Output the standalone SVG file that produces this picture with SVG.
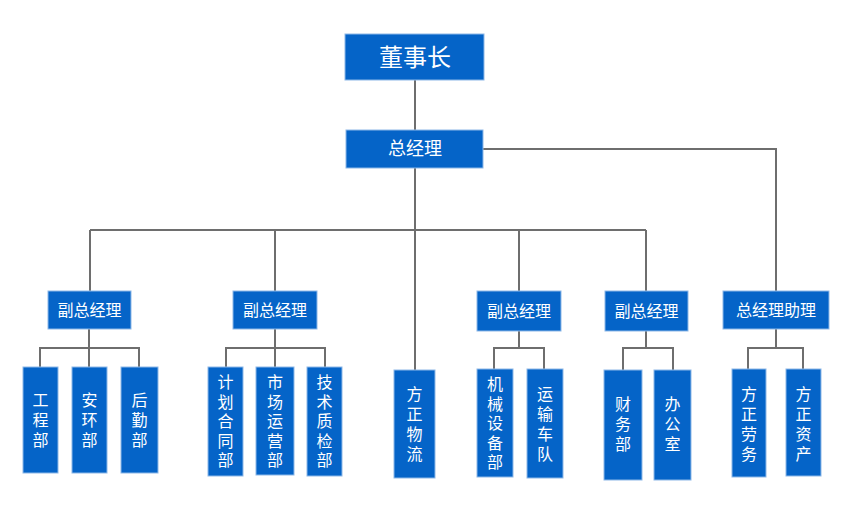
<svg xmlns="http://www.w3.org/2000/svg" width="850" height="530" viewBox="0 0 850 530">
<style>
.box{fill:#0564C8;stroke:#8DB8E8;stroke-width:1}
.t{fill:#fff;font-family:"Noto Sans CJK SC","Microsoft YaHei",sans-serif;text-anchor:middle}
.v{font-size:16px}
.c{fill:none;stroke:#6E6E6E;stroke-width:2}
</style>
<rect width="850" height="530" fill="#fff"/>
<g id="connectors" class="c">
<path d="M415 80V130"/>
<path d="M415 168V370"/>
<path d="M90 230H646"/>
<path d="M90 230V291M275 230V291M519 230V291M646 230V291"/>
<path d="M483 149H776V291"/>
<path d="M89 329V348M40 367V348H139V367M89 348V367"/>
<path d="M275 329V348M226 367V348H325V367M275 348V367"/>
<path d="M519 331V348M494 369V348H544V369"/>
<path d="M646 331V348M623 370V348H673V370"/>
<path d="M776 329V348M748 369V348H803V369"/>
</g>
<g id="n-dsz"><rect class="box" x="345" y="34" width="139" height="46"/><text class="t" x="415" y="66" font-size="24">董事长</text></g>
<g id="n-zjl"><rect class="box" x="346" y="130" width="137" height="38"/><text class="t" x="415" y="155" font-size="18">总经理</text></g>
<g id="n-fz1"><rect class="box" x="48" y="291" width="83" height="38"/><text class="t" x="89.5" y="316" font-size="16">副总经理</text></g>
<g id="n-fz2"><rect class="box" x="233" y="291" width="84" height="38"/><text class="t" x="275" y="316" font-size="16">副总经理</text></g>
<g id="n-fz3"><rect class="box" x="477" y="291" width="84" height="40"/><text class="t" x="519" y="317" font-size="16">副总经理</text></g>
<g id="n-fz4"><rect class="box" x="605" y="291" width="83" height="40"/><text class="t" x="646.5" y="317" font-size="16">副总经理</text></g>
<g id="n-zjlzl"><rect class="box" x="723" y="291" width="106" height="38"/><text class="t" x="776" y="316" font-size="16">总经理助理</text></g>

<g id="n-gcb"><rect class="box" x="23" y="367" width="35" height="106"/><text class="t v" x="40.5" y="406"><tspan x="40.5">工</tspan><tspan x="40.5" dy="20">程</tspan><tspan x="40.5" dy="20">部</tspan></text></g>
<g id="n-ahb"><rect class="box" x="72" y="367" width="35" height="106"/><text class="t v" x="89.5" y="406"><tspan x="89.5">安</tspan><tspan x="89.5" dy="20">环</tspan><tspan x="89.5" dy="20">部</tspan></text></g>
<g id="n-hqb"><rect class="box" x="121" y="367" width="37" height="106"/><text class="t v" x="139.5" y="406"><tspan x="139.5">后</tspan><tspan x="139.5" dy="20">勤</tspan><tspan x="139.5" dy="20">部</tspan></text></g>

<g id="n-jhht"><rect class="box" x="208" y="367" width="35" height="109"/><text class="t v" x="225.5" y="388"><tspan x="225.5">计</tspan><tspan x="225.5" dy="19.5">划</tspan><tspan x="225.5" dy="19.5">合</tspan><tspan x="225.5" dy="19.5">同</tspan><tspan x="225.5" dy="19.5">部</tspan></text></g>
<g id="n-scyy"><rect class="box" x="256" y="367" width="38" height="108"/><text class="t v" x="275" y="388"><tspan x="275">市</tspan><tspan x="275" dy="19.5">场</tspan><tspan x="275" dy="19.5">运</tspan><tspan x="275" dy="19.5">营</tspan><tspan x="275" dy="19.5">部</tspan></text></g>
<g id="n-jszj"><rect class="box" x="307" y="367" width="35" height="109"/><text class="t v" x="324.5" y="388"><tspan x="324.5">技</tspan><tspan x="324.5" dy="19.5">术</tspan><tspan x="324.5" dy="19.5">质</tspan><tspan x="324.5" dy="19.5">检</tspan><tspan x="324.5" dy="19.5">部</tspan></text></g>

<g id="n-fzwl"><rect class="box" x="394" y="370" width="41" height="108"/><text class="t v" x="414.5" y="400"><tspan x="414.5">方</tspan><tspan x="414.5" dy="20">正</tspan><tspan x="414.5" dy="20">物</tspan><tspan x="414.5" dy="20">流</tspan></text></g>

<g id="n-jxsb"><rect class="box" x="477" y="369" width="36" height="108"/><text class="t v" x="495" y="390"><tspan x="495">机</tspan><tspan x="495" dy="19.5">械</tspan><tspan x="495" dy="19.5">设</tspan><tspan x="495" dy="19.5">备</tspan><tspan x="495" dy="19.5">部</tspan></text></g>
<g id="n-ysdd"><rect class="box" x="527" y="369" width="36" height="109"/><text class="t v" x="545" y="400"><tspan x="545">运</tspan><tspan x="545" dy="20">输</tspan><tspan x="545" dy="20">车</tspan><tspan x="545" dy="20">队</tspan></text></g>

<g id="n-cwb"><rect class="box" x="604" y="370" width="38" height="110"/><text class="t v" x="623" y="410"><tspan x="623">财</tspan><tspan x="623" dy="20">务</tspan><tspan x="623" dy="20">部</tspan></text></g>
<g id="n-bgs"><rect class="box" x="654" y="370" width="37" height="110"/><text class="t v" x="672.5" y="410"><tspan x="672.5">办</tspan><tspan x="672.5" dy="20">公</tspan><tspan x="672.5" dy="20">室</tspan></text></g>

<g id="n-fzlw"><rect class="box" x="732" y="369" width="34" height="108"/><text class="t v" x="749" y="400"><tspan x="749">方</tspan><tspan x="749" dy="20">正</tspan><tspan x="749" dy="20">劳</tspan><tspan x="749" dy="20">务</tspan></text></g>
<g id="n-fzzc"><rect class="box" x="786" y="369" width="35" height="107"/><text class="t v" x="803.5" y="400"><tspan x="803.5">方</tspan><tspan x="803.5" dy="20">正</tspan><tspan x="803.5" dy="20">资</tspan><tspan x="803.5" dy="20">产</tspan></text></g>
</svg>
